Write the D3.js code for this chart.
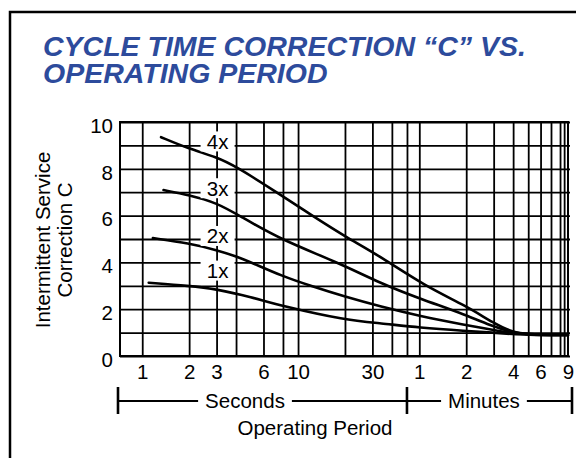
<!DOCTYPE html>
<html>
<head>
<meta charset="utf-8">
<script src="https://cdn.jsdelivr.net/npm/d3@7"></script>
<style>
  html, body { margin: 0; padding: 0; background: #fff; }
  svg { display: block; font-family: "Liberation Sans", Arial, Helvetica, sans-serif; }
</style>
</head>
<body>
<svg id="chart" width="576" height="458"></svg>
<script>
// Operating period in seconds, correction C
const seriesNames = ["1x", "2x", "3x", "4x"];

const t1x = [1.1, 2, 3, 5, 8, 20, 34, 60, 120, 180, 240, 300, 420, 540];
const c1x = [3.13, 3.0, 2.86, 2.52, 2.13, 1.54, 1.4, 1.21, 1.07, 1.0, 0.93, 0.91, 0.89, 0.9];

const t2x = [1.17, 2, 3, 4, 5, 8, 12, 20, 34, 60, 120, 180, 240, 300, 420, 540];
const c2x = [5.04, 4.82, 4.53, 4.26, 4.0, 3.4, 3.0, 2.53, 2.11, 1.71, 1.32, 1.11, 0.97, 0.92, 0.89, 0.9];

const t3x = [1.37, 2, 3, 4.2, 7.6, 18, 34, 60, 120, 180, 240, 300, 420, 540];
const c3x = [7.09, 6.88, 6.55, 6.0, 5.0, 4.0, 3.1, 2.46, 1.75, 1.25, 1.0, 0.93, 0.89, 0.9];

const t4x = [1.32, 2, 3, 4, 7.3, 12.3, 21.3, 34, 65, 120, 180, 240, 300, 420, 540];
const c4x = [9.35, 8.85, 8.5, 8.1, 7.0, 6.0, 5.0, 4.24, 3.0, 2.14, 1.4, 1.0, 0.93, 0.89, 0.9];

// where the "1x".."4x" tags sit (seconds, C)
const labelT = 3;
const labelC = [3.65, 5.13, 7.17, 9.17];

// vertical grid lines (seconds) and the labelled ones
const gridT = [1, 2, 3, 4, 6, 8, 10, 20, 30, 40, 50, 60, 120, 180, 240, 300, 360, 420, 480, 510];
const tickT = [1, 2, 3, 6, 10, 30, 60, 120, 240, 360, 540];
const tickText = ["1", "2", "3", "6", "10", "30", "1", "2", "4", "6", "9"];
const yGrid = d3.range(0, 11, 1);
const yTicks = [0, 2, 4, 6, 8, 10];

const periodMin = 0.72, periodMax = 540, splitT = 50; // seconds | minutes divider

const titleLines = ["CYCLE TIME CORRECTION \u201CC\u201D VS.", "OPERATING PERIOD"];
const yTitle = ["Intermittent Service", "Correction C"];

const svg = d3.select("#chart");
const plot = { left: 120, right: 568, top: 122, bottom: 356 };
const fs = 20.5;

const x = d3.scaleLog().domain([periodMin, periodMax]).range([plot.left, plot.right]);
const y = d3.scaleLinear().domain([0, 10]).range([plot.bottom, plot.top]);

// outer frame
svg.append("path")
  .attr("d", "M10,460 L10,12 L580,12")
  .attr("fill", "none").attr("stroke", "#000").attr("stroke-width", 2.5);

// title
svg.append("g").selectAll("text")
  .data(titleLines)
  .join("text")
  .attr("x", 43)
  .attr("y", (d, i) => 56 + i * 27)
  .attr("fill", "#2d4b9c")
  .attr("font-size", 28.5)
  .attr("font-weight", "bold")
  .attr("font-style", "italic")
  .text(d => d);

// grid
const grid = svg.append("g");
grid.append("g")
  .attr("transform", `translate(0,${plot.bottom})`)
  .call(d3.axisBottom(x).tickValues(gridT).tickSize(-(plot.bottom - plot.top)).tickFormat(""))
  .call(g => g.select(".domain").remove())
  .call(g => g.selectAll("line").attr("stroke", "#000").attr("stroke-width", 1.8));
grid.append("g")
  .attr("transform", `translate(${plot.left},0)`)
  .call(d3.axisLeft(y).tickValues(yGrid).tickSize(-(plot.right - plot.left + 2)).tickFormat(""))
  .call(g => g.select(".domain").remove())
  .call(g => g.selectAll("line").attr("stroke", "#000").attr("stroke-width", 1.8));

svg.append("rect")
  .attr("x", plot.left).attr("y", plot.top)
  .attr("width", plot.right - plot.left).attr("height", plot.bottom - plot.top)
  .attr("fill", "none").attr("stroke", "#000").attr("stroke-width", 2);

// curves
const curveData = [
  { name: seriesNames[0], t: t1x, c: c1x },
  { name: seriesNames[1], t: t2x, c: c2x },
  { name: seriesNames[2], t: t3x, c: c3x },
  { name: seriesNames[3], t: t4x, c: c4x }
];
const line = d3.line()
  .x(d => x(d[0]))
  .y(d => y(d[1]))
  .curve(d3.curveBasis);

svg.append("g").selectAll("path")
  .data(curveData)
  .join("path")
  .attr("fill", "none")
  .attr("stroke", "#000")
  .attr("stroke-width", 2.6)
  .attr("stroke-linecap", "round")
  .attr("d", d => line(d.t.map((t, i) => [t, d.c[i]])));

// curve tags with white boxes
const tags = svg.append("g").selectAll("g")
  .data(seriesNames)
  .join("g")
  .attr("transform", (d, i) => `translate(${x(labelT) + 1},${y(labelC[i])})`);
tags.append("rect")
  .attr("x", -17).attr("y", -10).attr("width", 34).attr("height", 20)
  .attr("fill", "#fff");
tags.append("text")
  .attr("text-anchor", "middle")
  .attr("dy", "0.36em")
  .attr("font-size", fs)
  .text(d => d);

// y tick labels
svg.append("g")
  .attr("transform", `translate(${plot.left},0)`)
  .call(d3.axisLeft(y).tickValues(yTicks).tickSize(0).tickPadding(7))
  .call(g => g.select(".domain").remove())
  .call(g => g.selectAll("text")
    .attr("font-size", fs).attr("fill", "#000")
    .attr("font-family", "Liberation Sans, Arial, sans-serif")
    .attr("dy", "0.5em"));

// x tick labels
svg.append("g")
  .attr("transform", `translate(0,${plot.bottom})`)
  .call(d3.axisBottom(x).tickValues(tickT).tickSize(0).tickPadding(8)
    .tickFormat((d, i) => tickText[i]))
  .call(g => g.select(".domain").remove())
  .call(g => g.selectAll("text")
    .attr("font-size", fs).attr("fill", "#000")
    .attr("font-family", "Liberation Sans, Arial, sans-serif"));

// y axis title
svg.append("g").selectAll("text")
  .data(yTitle)
  .join("text")
  .attr("transform", (d, i) => `translate(${50 + i * 22},240) rotate(-90)`)
  .attr("text-anchor", "middle")
  .attr("font-size", fs)
  .text(d => d);

// seconds / minutes bracket
const bY = 401;
const bLeft = plot.left - 2, bSplit = x(splitT), bRight = plot.right + 4;
const bracket = svg.append("g").attr("stroke", "#000");
bracket.append("line")
  .attr("x1", bLeft).attr("x2", bRight).attr("y1", bY).attr("y2", bY)
  .attr("stroke-width", 2);
bracket.selectAll("line.bar")
  .data([bLeft, bSplit, bRight])
  .join("line")
  .attr("class", "bar")
  .attr("x1", d => d).attr("x2", d => d)
  .attr("y1", bY - 14).attr("y2", bY + 13)
  .attr("stroke-width", 2.6);

const unitLabels = [
  { text: "Seconds", cx: bLeft + 127 },
  { text: "Minutes", cx: bSplit + 77 }
];
unitLabels.forEach(u => {
  const g = svg.append("g");
  const bg = g.append("rect").attr("fill", "#fff");
  const t = g.append("text")
    .attr("x", u.cx).attr("y", bY)
    .attr("dy", "0.36em")
    .attr("text-anchor", "middle")
    .attr("font-size", fs)
    .text(u.text);
  const bb = t.node().getBBox();
  bg.attr("x", bb.x - 7).attr("y", bY - 3)
    .attr("width", bb.width + 14).attr("height", 6);
});

svg.append("text")
  .attr("x", 315).attr("y", 435)
  .attr("text-anchor", "middle")
  .attr("font-size", fs)
  .text("Operating Period");
</script>
</body>
</html>
